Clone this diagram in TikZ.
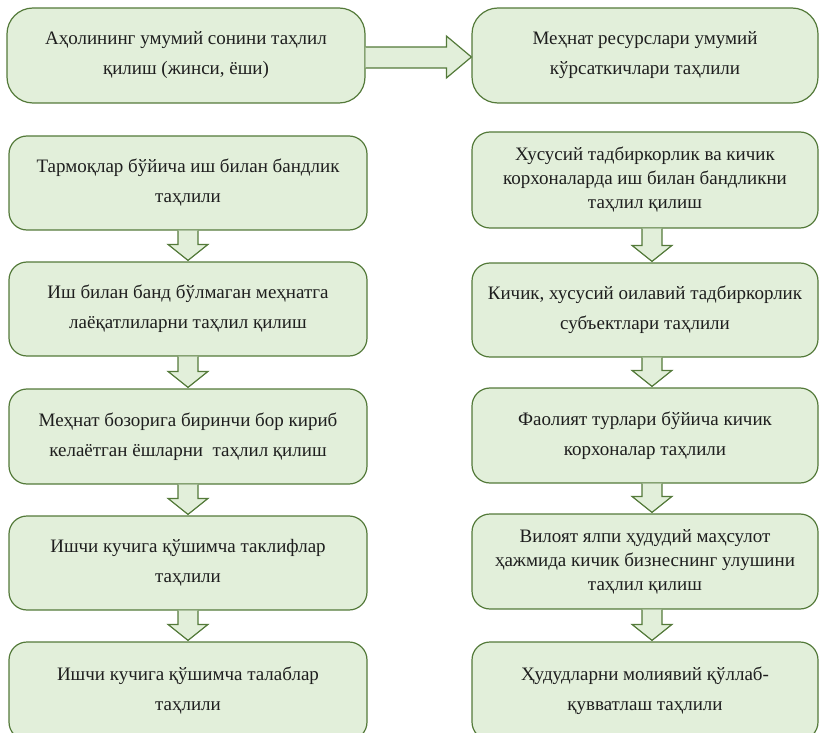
\documentclass[tikz,border=0pt]{standalone}
\usepackage{fontspec}
\setmainfont{Liberation Serif}
\usetikzlibrary{calc}
\definecolor{boxfill}{RGB}{226,239,218}
\definecolor{boxline}{RGB}{84,122,58}
\definecolor{txt}{RGB}{30,30,30}
\tikzset{
  stepbox/.style={draw=boxline, fill=boxfill, line width=1.2pt, rounded corners=18pt,
    inner sep=0pt, align=center, text=txt, minimum height=94pt,
    font=\fontsize{19}{30}\selectfont},
  colL/.style={stepbox, minimum width=358pt},
  colR/.style={stepbox, minimum width=346pt},
  threeline/.style={font=\fontsize{19}{24}\selectfont},
  topbox/.style={stepbox, rounded corners=26pt, minimum height=95pt},
  blockarrow/.style={draw=boxline, fill=boxfill, line width=1.2pt, line join=miter},
}
\begin{document}
\begin{tikzpicture}[x=1pt, y=-1pt]
\useasboundingbox (0,0) rectangle (820,733);
\clip (0,0) rectangle (820,733);

% top row
\node[topbox, minimum width=358pt] (t1) at (186,55.5) {Аҳолининг умумий сонини таҳлил\\қилиш (жинси, ёши)};
\node[topbox, minimum width=346pt] (t2) at (645,55.5) {Меҳнат ресурслари умумий\\кўрсаткичлари таҳлили};

% left column
\node[colL] (l1) at (188,183) {Тармоқлар бўйича иш билан бандлик\\таҳлили};
\node[colL] (l2) at (188,309) {Иш билан банд бўлмаган меҳнатга\\лаёқатлиларни таҳлил қилиш};
\node[colL, minimum height=95pt] (l3) at (188,436.5) {Меҳнат бозорига биринчи бор кириб\\келаётган ёшларни\ \ таҳлил қилиш};
\node[colL] (l4) at (188,563) {Ишчи кучига қўшимча таклифлар\\таҳлили};
\node[colL, minimum height=98pt] (l5) at (188,691) {Ишчи кучига қўшимча талаблар\\таҳлили};

% right column
\node[colR, threeline, minimum height=96pt] (r1) at (645,180) {Хусусий тадбиркорлик ва кичик\\корхоналарда иш билан бандликни\\таҳлил қилиш};
\node[colR] (r2) at (645,310) {Кичик, хусусий оилавий тадбиркорлик\\субъектлари таҳлили};
\node[colR, minimum height=95pt] (r3) at (645,435.5) {Фаолият турлари бўйича кичик\\корхоналар таҳлили};
\node[colR, threeline, minimum height=95pt] (r4) at (645,561.5) {Вилоят ялпи ҳудудий маҳсулот\\ҳажмида кичик бизнеснинг улушини\\таҳлил қилиш};
\node[colR, minimum height=98pt] (r5) at (645,691) {Ҳудудларни молиявий қўллаб-\\қувватлаш таҳлили};

% horizontal block arrow
\draw[blockarrow] ($(t1.east)+(0,-8.5)$) -- ($(t2.west)+(-25,-8.5)$) -- ($(t2.west)+(-25,-19.5)$)
  -- ($(t2.west)+(0,1.5)$) -- ($(t2.west)+(-25,22.5)$) -- ($(t2.west)+(-25,12.5)$)
  -- ($(t1.east)+(0,12.5)$);

% down block arrows
\foreach \a/\b/\dx in {l1/l2/0, l2/l3/0, l3/l4/0, l4/l5/0, r1/r2/7, r2/r3/7, r3/r4/7, r4/r5/7}{
  \draw[blockarrow] ($(\a.south)+(\dx-10,0)$) -- ($(\b.north)+(\dx-10,-17)$) -- ($(\b.north)+(\dx-20,-17)$)
    -- ($(\b.north)+(\dx,-1)$) -- ($(\b.north)+(\dx+20,-17)$) -- ($(\b.north)+(\dx+10,-17)$)
    -- ($(\a.south)+(\dx+10,0)$);
}
\end{tikzpicture}
\end{document}
